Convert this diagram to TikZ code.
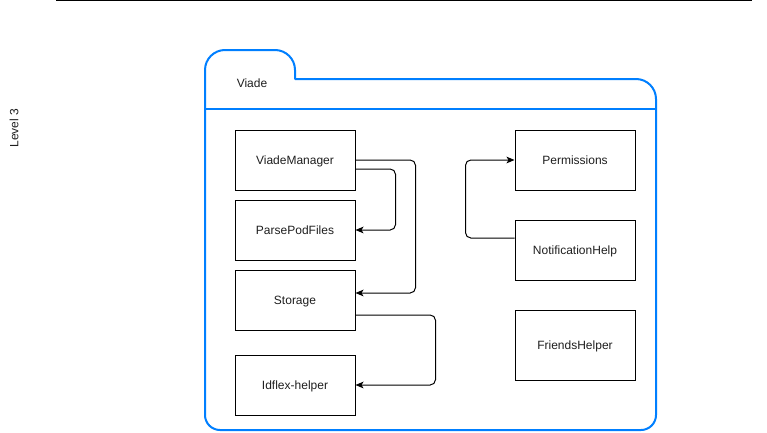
\documentclass[tikz,border=0pt]{standalone}
\usepackage{fontspec}
\setmainfont{Liberation Sans}
\usetikzlibrary{calc,arrows.meta}
\definecolor{pkgblue}{RGB}{0,127,255}
\definecolor{txt}{RGB}{30,30,30}
\tikzset{
  box/.style={draw=black, line width=0.75pt, minimum width=90pt, minimum height=45pt, inner sep=0pt, text height=8.5pt, text depth=2pt, font=\fontsize{9pt}{11pt}\selectfont, text=txt},
  conn/.style={draw=black, line width=0.75pt, rounded corners=4pt, -{Stealth[length=6pt,width=5pt,inset=1.5pt]}},
  pkg/.style={draw=pkgblue, line width=1.5pt},
  lbl/.style={font=\fontsize{9pt}{11pt}\selectfont, text=txt, inner sep=0pt}
}
\begin{document}
\begin{tikzpicture}[x=0.75pt,y=-0.75pt]
\useasboundingbox (0,0) rectangle (767,432);
% top rule
\draw[line width=0.75pt] (56,0.5) -- (752,0.5);
% level label
\node[lbl, rotate=90] (level) at (14,128) {Level 3};
% package outline
\draw[pkg, line join=round] (205,415) -- (205,70)
  .. controls (205,59) and (214,50) .. (225,50) -- (275,50)
  .. controls (286,50) and (295,59) .. (295,70) -- (295,79) -- (636,79)
  .. controls (647,79) and (656,88) .. (656,99) -- (656,415)
  .. controls (656,423.3) and (649.3,430) .. (641,430) -- (220,430)
  .. controls (211.7,430) and (205,423.3) .. (205,415) -- cycle;
\draw[pkg] (205,109) -- (656,109);
\node[lbl] (viade) at (252,83.5) {Viade};
% boxes
\node[box] (vm) at (295,160) {ViadeManager};
\node[box] (pp) at (295,230) {ParsePodFiles};
\node[box] (st) at (295,300) {Storage};
\node[box] (id) at (295,385) {Idflex-helper};
\node[box] (pm) at (575,160) {Permissions};
\node[box] (nh) at (575,250) {NotificationHelp};
\node[box, minimum height=52.5pt] (fh) at (575,345) {FriendsHelper};
% connectors
\draw[conn] (vm.east) -- ++(60,0) |- ($(st.east)+(0,-7)$);
\draw[conn] ($(vm.east)+(0,9)$) -- ++(40,0) |- (pp.east);
\draw[conn] ($(st.east)+(0,15)$) -- ++(80,0) |- (id.east);
\draw[conn] ($(nh.west)+(0,-12)$) -- ++(-49,0) |- (pm.west);
\end{tikzpicture}
\end{document}
